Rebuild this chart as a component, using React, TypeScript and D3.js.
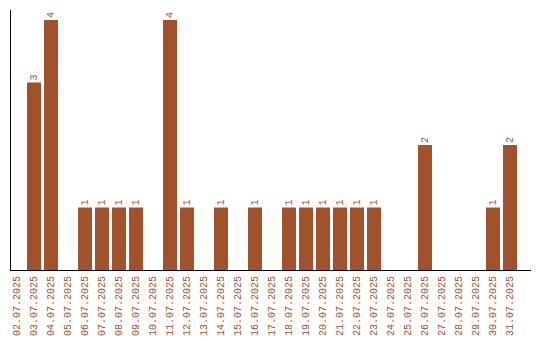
import React from "react";
import * as d3 from "d3";

const dates = [
  "02.07.2025", "03.07.2025", "04.07.2025", "05.07.2025", "06.07.2025",
  "07.07.2025", "08.07.2025", "09.07.2025", "10.07.2025", "11.07.2025",
  "12.07.2025", "13.07.2025", "14.07.2025", "15.07.2025", "16.07.2025",
  "17.07.2025", "18.07.2025", "19.07.2025", "20.07.2025", "21.07.2025",
  "22.07.2025", "23.07.2025", "24.07.2025", "25.07.2025", "26.07.2025",
  "27.07.2025", "28.07.2025", "29.07.2025", "30.07.2025", "31.07.2025",
];
const counts = [
  0, 3, 4, 0, 1,
  1, 1, 1, 0, 4,
  1, 0, 1, 0, 1,
  0, 1, 1, 1, 1,
  1, 1, 0, 0, 2,
  0, 0, 0, 1, 2,
];

const W = 540;
const H = 340;
const COLOR = "#A0522D";
const FONT = "'Liberation Mono', monospace";

export default function App() {
  const left = 10;
  const bottom = 270;
  const top = 10;
  const right = 531;
  const pad = 3 / 17;
  const x = d3.scaleBand<string>().domain(dates).range([8.5, 518.5]).paddingInner(pad).paddingOuter(pad / 2);
  const y = d3.scaleLinear().domain([0, 4.16]).range([bottom, top]);

  return (
    <svg width={W} height={H} style={{ position: "absolute", left: 0, top: 0 }}>
      <rect width={W} height={H} fill="#fff" />
      {dates.map((d, i) => {
        const v = counts[i];
        const bx = x(d)!;
        const cx = bx + x.bandwidth() / 2;
        return (
          <g key={d}>
            {v > 0 && (
              <>
                <rect x={bx} y={y(v)} width={x.bandwidth()} height={bottom - y(v)} fill={COLOR} />
                <text
                  transform={`translate(${cx + 0.5},${y(v) - 2}) rotate(-90)`}
                  textAnchor="start"
                  dominantBaseline="middle"
                  fontFamily={FONT}
                  fontSize={10}
                  fill={COLOR}
                >
                  {v}
                </text>
              </>
            )}
            <text
              transform={`translate(${cx + 0.5},${bottom + 6}) rotate(-90)`}
              textAnchor="end"
              dominantBaseline="middle"
              fontFamily={FONT}
              fontSize={10}
              fill={COLOR}
            >
              {d}
            </text>
          </g>
        );
      })}
      <line x1={left + 0.5} x2={left + 0.5} y1={top} y2={bottom} stroke="#000" strokeWidth={1} />
      <line x1={left} x2={right} y1={bottom + 0.5} y2={bottom + 0.5} stroke="#000" strokeWidth={1} />
    </svg>
  );
}
